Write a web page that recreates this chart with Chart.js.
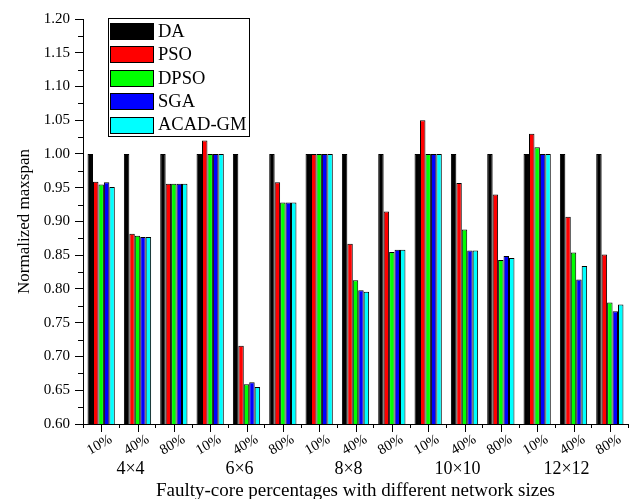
<!DOCTYPE html>
<html>
<head>
<meta charset="utf-8">
<script src="https://cdn.jsdelivr.net/npm/chart.js@4/dist/chart.umd.min.js"></script>
<style>
  html, body { margin: 0; padding: 0; background: #fff; }
  canvas { display: block; }
</style>
</head>
<body>
<canvas id="chart" width="633" height="499"></canvas>
<script>
// Faulty-core percentage for each bar group, and the network size each triple belongs to
const categories = ['10%', '40%', '80%', '10%', '40%', '80%', '10%', '40%', '80%',
                    '10%', '40%', '80%', '10%', '40%', '80%'];
const networkSizes = ['4×4', '6×6', '8×8', '10×10', '12×12'];

const seriesNames = ['DA', 'PSO', 'DPSO', 'SGA', 'ACAD-GM'];
const seriesColors = ['#000000', '#ff0000', '#00ff00', '#0000ff', '#00ffff'];

// Normalized makespan per algorithm
const daValues   = [1.000, 1.000, 1.000, 1.000, 1.000, 1.000, 1.000, 1.000, 1.000, 1.000, 1.000, 1.000, 1.000, 1.000, 1.000];
const psoValues  = [0.959, 0.882, 0.956, 1.020, 0.716, 0.958, 1.000, 0.867, 0.915, 1.050, 0.957, 0.940, 1.030, 0.907, 0.851];
const dpsoValues = [0.955, 0.879, 0.956, 1.000, 0.659, 0.928, 1.000, 0.813, 0.855, 1.000, 0.888, 0.843, 1.010, 0.854, 0.780];
const sgaValues  = [0.958, 0.877, 0.956, 1.000, 0.662, 0.928, 1.000, 0.798, 0.858, 1.000, 0.857, 0.849, 1.000, 0.814, 0.767];
const acadValues = [0.951, 0.877, 0.956, 1.000, 0.655, 0.928, 1.000, 0.796, 0.858, 1.000, 0.857, 0.846, 1.000, 0.834, 0.777];

const yTickValues = [0.60, 0.65, 0.70, 0.75, 0.80, 0.85, 0.90, 0.95, 1.00, 1.05, 1.10, 1.15, 1.20];

const xTitle = 'Faulty-core percentages with different network sizes';
const yTitle = 'Normalized maxspan';

const SERIF = '"Liberation Serif", "Times New Roman", serif';
const allValues = [daValues, psoValues, dpsoValues, sgaValues, acadValues];

// Extra axis decorations, labels and the boxed legend
const decorations = {
  id: 'decorations',
  afterDraw(chart) {
    const ctx = chart.ctx;
    const x = chart.scales.x;
    const y = chart.scales.y;
    const area = chart.chartArea;
    ctx.save();
    ctx.strokeStyle = '#000';
    ctx.fillStyle = '#000';
    ctx.lineWidth = 1;

    // minor y ticks between the labelled ones
    for (let i = 0; i < yTickValues.length - 1; i++) {
      const v = (yTickValues[i] + yTickValues[i + 1]) / 2;
      const py = Math.round(y.getPixelForValue(v)) + 0.5;
      ctx.beginPath();
      ctx.moveTo(area.left - 5, py);
      ctx.lineTo(area.left, py);
      ctx.stroke();
    }

    // major x ticks at category centres + rotated percentage labels
    ctx.font = '14.5px ' + SERIF;
    ctx.textAlign = 'center';
    ctx.textBaseline = 'middle';
    categories.forEach((lab, i) => {
      const px = Math.round(x.getPixelForValue(i)) + 0.5;
      ctx.beginPath();
      ctx.moveTo(px, area.bottom);
      ctx.lineTo(px, area.bottom + 8);
      ctx.stroke();
      ctx.save();
      ctx.translate(px - 2, area.bottom + 21);
      ctx.rotate(-Math.PI / 6);
      ctx.fillText(lab, 0, 0);
      ctx.restore();
    });

    // network size under each triple
    ctx.font = '18px ' + SERIF;
    networkSizes.forEach((name, g) => {
      const px = x.getPixelForValue(g * 3 + 1) - 7;
      ctx.fillText(name, px, area.bottom + 45);
    });

    // axis titles
    ctx.font = '19px ' + SERIF;
    ctx.fillText(xTitle, (area.left + area.right) / 2, area.bottom + 67);
    ctx.font = '17px ' + SERIF;
    ctx.save();
    ctx.translate(25, (area.top + area.bottom) / 2);
    ctx.rotate(-Math.PI / 2);
    ctx.fillText(yTitle, 0, 0);
    ctx.restore();

    // legend
    const lx = 108.5, ly = 18.5, lw = 141, lh = 118;
    ctx.fillStyle = '#fff';
    ctx.fillRect(lx, ly, lw, lh);
    ctx.strokeRect(lx, ly, lw, lh);
    ctx.font = '18.5px ' + SERIF;
    ctx.textAlign = 'left';
    chart.data.datasets.forEach((ds, i) => {
      const cy = 31 + i * 23.4;
      ctx.fillStyle = ds.backgroundColor;
      ctx.fillRect(110.5, Math.round(cy - 8) + 0.5, 43, 16);
      ctx.strokeRect(110.5, Math.round(cy - 8) + 0.5, 43, 16);
      ctx.fillStyle = '#000';
      ctx.fillText(ds.label, 158, cy + 1);
    });
    ctx.restore();
  }
};

new Chart(document.getElementById('chart'), {
  type: 'bar',
  data: {
    labels: categories,
    datasets: seriesNames.map((name, i) => ({
      label: name,
      data: allValues[i],
      backgroundColor: seriesColors[i],
      borderColor: '#000',
      borderWidth: 1
    }))
  },
  options: {
    responsive: false,
    animation: false,
    layout: { padding: { top: 19, right: 5, left: 0, bottom: 0 } },
    datasets: { bar: { categoryPercentage: 0.75, barPercentage: 1 } },
    plugins: { legend: { display: false }, tooltip: { enabled: false } },
    scales: {
      x: {
        grid: { display: true, drawOnChartArea: false, color: '#000', tickLength: 4, offset: true },
        border: { display: true, color: '#000', width: 1 },
        ticks: { display: false },
        afterFit(scale) { scale.height = 75; }
      },
      y: {
        min: 0.6,
        max: 1.2,
        afterBuildTicks(scale) { scale.ticks = yTickValues.map(v => ({ value: v })); },
        ticks: {
          color: '#000',
          font: { family: SERIF, size: 15 },
          padding: 5,
          callback: v => Number(v).toFixed(2)
        },
        grid: { display: true, drawOnChartArea: false, color: '#000', tickLength: 8 },
        border: { display: true, color: '#000', width: 1 },
        afterFit(scale) { scale.width = 83; }
      }
    }
  },
  plugins: [decorations]
});
</script>
</body>
</html>
